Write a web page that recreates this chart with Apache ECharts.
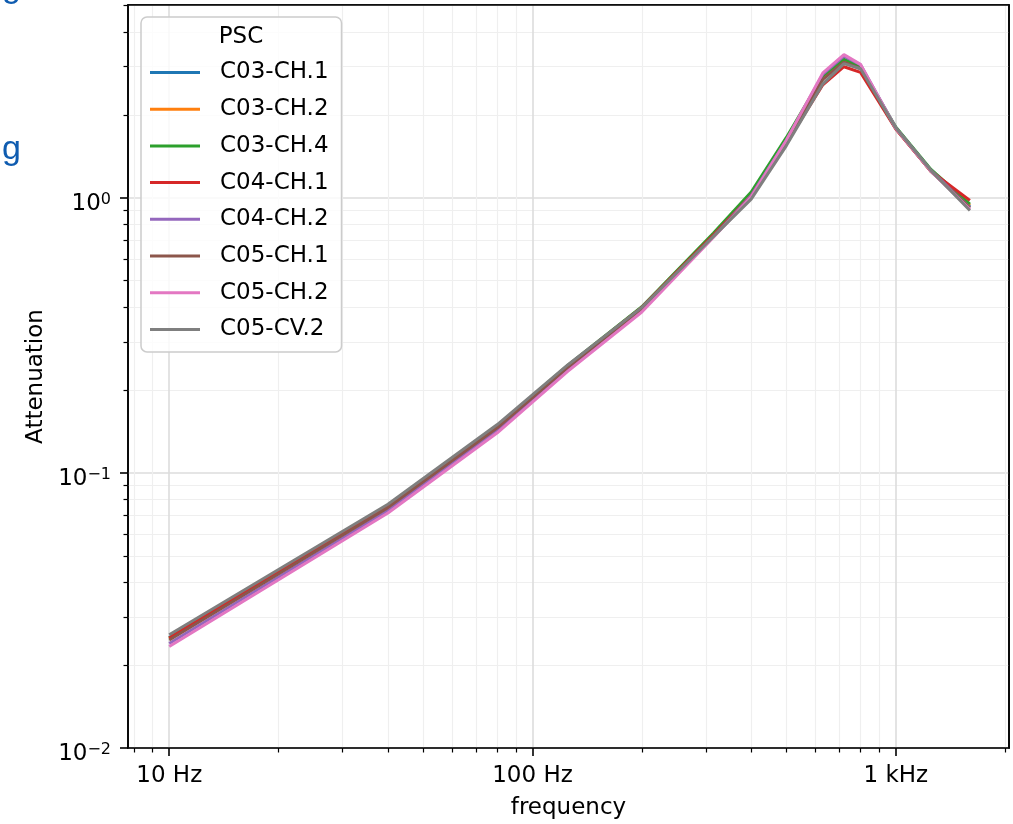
<!DOCTYPE html>
<html>
<head>
<meta charset="utf-8">
<script src="https://cdn.jsdelivr.net/npm/echarts@6/dist/echarts.min.js"></script>
<style>
  html, body { margin: 0; padding: 0; background: #fff; }
  #chart { width: 1013px; height: 824px; }
</style>
</head>
<body>
<div id="chart"></div>
<script>
// Fréquences (Hz) et atténuation par voie
var freqs = [10, 40, 80, 125, 200, 315, 400, 500, 630, 720, 800, 1000, 1250, 1600];

var c03ch1 = [0.0252, 0.0760, 0.148, 0.245, 0.400, 0.735, 1.02, 1.60, 2.72, 3.15, 2.98, 1.80, 1.26, 0.93];
var c03ch2 = [0.0250, 0.0755, 0.147, 0.244, 0.398, 0.732, 1.02, 1.61, 2.74, 3.18, 2.99, 1.79, 1.25, 0.94];
var c03ch4 = [0.0251, 0.0757, 0.148, 0.246, 0.402, 0.745, 1.05, 1.66, 2.78, 3.20, 3.00, 1.81, 1.27, 0.95];
var c04ch1 = [0.0251, 0.0758, 0.148, 0.245, 0.400, 0.735, 1.02, 1.58, 2.58, 3.00, 2.86, 1.78, 1.25, 0.98];
var c04ch2 = [0.0240, 0.0730, 0.143, 0.238, 0.390, 0.725, 1.02, 1.62, 2.82, 3.28, 3.05, 1.80, 1.26, 0.92];
var c05ch1 = [0.0247, 0.0748, 0.146, 0.242, 0.396, 0.728, 1.01, 1.59, 2.70, 3.12, 2.95, 1.79, 1.25, 0.92];
var c05ch2 = [0.0234, 0.0715, 0.140, 0.234, 0.385, 0.720, 1.01, 1.62, 2.85, 3.32, 3.06, 1.79, 1.25, 0.91];
var c05cv2 = [0.0258, 0.0770, 0.150, 0.247, 0.400, 0.725, 0.99, 1.55, 2.60, 3.08, 2.95, 1.80, 1.26, 0.90];

var seriesNames = ['C03-CH.1', 'C03-CH.2', 'C03-CH.4', 'C04-CH.1', 'C04-CH.2', 'C05-CH.1', 'C05-CH.2', 'C05-CV.2'];
var seriesValues = [c03ch1, c03ch2, c03ch4, c04ch1, c04ch2, c05ch1, c05ch2, c05cv2];
var colors = ['#1f77b4', '#ff7f0e', '#2ca02c', '#d62728', '#9467bd', '#8c564b', '#e377c2', '#7f7f7f'];

// graduations
var xMajor = [10, 100, 1000];
var xMinor = [8, 9, 20, 30, 40, 50, 60, 70, 80, 90, 200, 300, 400, 500, 600, 700, 800, 900, 2000];
var yMajor = [0.01, 0.1, 1];
var yMinor = [0.02, 0.03, 0.04, 0.05, 0.06, 0.07, 0.08, 0.09, 0.2, 0.3, 0.4, 0.5, 0.6, 0.7, 0.8, 0.9, 2, 3, 4, 5];

var FONT = 'DejaVu Sans';
var XMIN = 7.7, XMAX = 2050, YMIN = 0.01, YMAX = 5.03;
var chart = echarts.init(document.getElementById('chart'));

function freqLabel(v) {
    var f = Math.round(v);
    return f >= 1000 ? (f / 1000) + ' kHz' : f + ' Hz';
}

function powLabel(v) {
    var e = Math.round(Math.log(v) / Math.LN10);
    var s = e < 0 ? '\u2212' + (-e) : String(e);
    return '{b|10}{e|' + s + '}';
}

// axe qui ne sert qu'à tracer un bord du cadre
function frameAxis(pos, min, max) {
    return {
        type: 'log', logBase: 10, min: min, max: max, position: pos,
        axisLine: { show: true, lineStyle: { color: '#000', width: 1.6 } },
        axisTick: { show: false }, axisLabel: { show: false }, splitLine: { show: false }
    };
}

var series = seriesNames.map(function(name, i) {
    return {
        name: name,
        type: 'line',
        xAxisIndex: 0,
        yAxisIndex: 0,
        showSymbol: false,
        symbol: 'none',
        color: colors[i],
        lineStyle: { width: 3, color: colors[i] },
        data: freqs.map(function(f, k) { return [f, seriesValues[i][k]]; })
    };
});

var option = {
    animation: false,
    backgroundColor: '#fff',
    grid: {
        left: 128, right: 4, top: 5, bottom: 76,
        outerBoundsMode: 'none', containLabel: false,
        show: true, borderColor: '#000', borderWidth: 1.6, backgroundColor: 'transparent'
    },
    xAxis: [
        {
            type: 'log', logBase: 10, min: XMIN, max: XMAX, position: 'bottom',
            name: 'frequency', nameLocation: 'middle', nameGap: 49,
            nameTextStyle: { fontFamily: FONT, fontSize: 23, color: '#000' },
            axisLine: { show: true, lineStyle: { color: '#000', width: 1.6 } },
            axisTick: { show: true, customValues: xMajor, length: 8, lineStyle: { color: '#000', width: 1.6 } },
            axisLabel: { customValues: xMajor, formatter: freqLabel, margin: 17,
                fontFamily: FONT, fontSize: 23, color: '#000' },
            splitLine: { show: true, lineStyle: { color: '#dcdcdc', width: 1.6 } }
        },
        {
            type: 'log', logBase: 10, min: XMIN, max: XMAX, position: 'bottom',
            axisLine: { show: false },
            axisTick: { show: true, customValues: xMinor, length: 4.5, lineStyle: { color: '#000', width: 1.2 } },
            axisLabel: { show: false },
            splitLine: { show: true, lineStyle: { color: '#efefef', width: 1.2 } }
        },
        frameAxis('top', XMIN, XMAX)
    ],
    yAxis: [
        {
            type: 'log', logBase: 10, min: YMIN, max: YMAX, position: 'left',
            name: 'Attenuation', nameLocation: 'middle', nameGap: 80, nameRotate: 90,
            nameTextStyle: { fontFamily: FONT, fontSize: 23, color: '#000' },
            axisLine: { show: true, lineStyle: { color: '#000', width: 1.6 } },
            axisTick: { show: true, customValues: yMajor, length: 8, lineStyle: { color: '#000', width: 1.6 } },
            axisLabel: {
                customValues: yMajor, formatter: powLabel, margin: 17, padding: [12, 0, 0, 0],
                rich: {
                    b: { fontFamily: FONT, fontSize: 23, color: '#000', lineHeight: 25 },
                    e: { fontFamily: FONT, fontSize: 16, color: '#000', verticalAlign: 'top', lineHeight: 16 }
                }
            },
            splitLine: { show: true, lineStyle: { color: '#dcdcdc', width: 1.6 } }
        },
        {
            type: 'log', logBase: 10, min: YMIN, max: YMAX, position: 'left',
            axisLine: { show: false },
            axisTick: { show: true, customValues: yMinor, length: 4.5, lineStyle: { color: '#000', width: 1.2 } },
            axisLabel: { show: false },
            splitLine: { show: true, lineStyle: { color: '#efefef', width: 1.2 } }
        },
        frameAxis('right', YMIN, YMAX)
    ],
    legend: {
        orient: 'vertical', left: 141, top: 17,
        padding: [42, 13, 9, 9],
        icon: 'rect', itemWidth: 50, itemHeight: 3, itemGap: 9.7,
        borderColor: '#cccccc', borderWidth: 1.5, borderRadius: 6,
        backgroundColor: 'rgba(255,255,255,0.8)',
        textStyle: { fontFamily: FONT, fontSize: 23, color: '#000', lineHeight: 27, padding: [0, 0, 0, 15] },
        data: seriesNames
    },
    graphic: [
        { type: 'text', z: 100, x: 241, y: 37,
          style: { text: 'PSC', font: '23px "DejaVu Sans"', fill: '#000', align: 'center', verticalAlign: 'middle' } },
        { type: 'text', z: 100, x: 2, y: 133,
          style: { text: 'g', font: '34px "Liberation Sans"', fill: '#0f5cb0', align: 'left' } },
        { type: 'text', z: 100, x: 2, y: -29,
          style: { text: 'g', font: '34px "Liberation Sans"', fill: '#0f5cb0', align: 'left' } }
    ],
    series: series
};

chart.setOption(option);
</script>
</body>
</html>
